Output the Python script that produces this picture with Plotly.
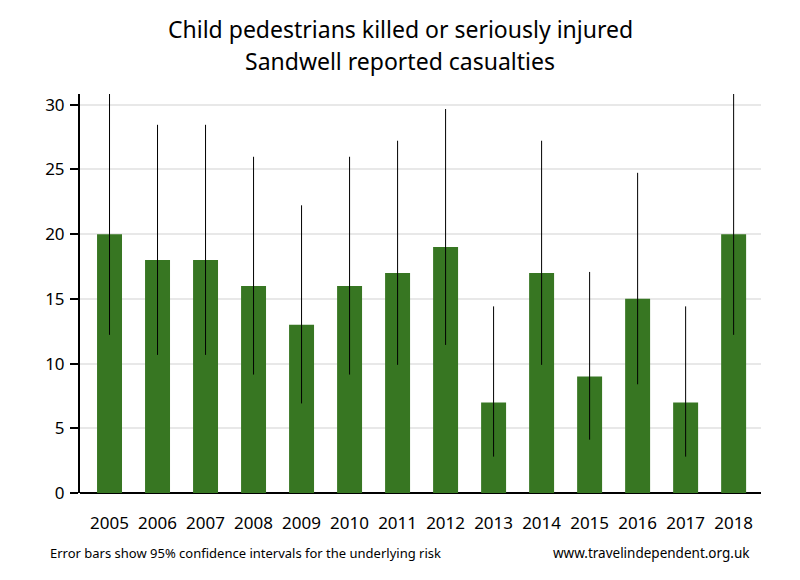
import plotly.graph_objects as go

# Sandwell child pedestrian KSI casualties, with 95% confidence limits
years = ["2005", "2006", "2007", "2008", "2009", "2010", "2011",
         "2012", "2013", "2014", "2015", "2016", "2017", "2018"]
casualties = [20, 18, 18, 16, 13, 16, 17, 19, 7, 17, 9, 15, 7, 20]
upper_ci = [30.89, 28.45, 28.45, 25.98, 22.23, 25.98, 27.22,
            29.67, 14.42, 27.22, 17.08, 24.74, 14.42, 30.89]
lower_ci = [12.22, 10.67, 10.67, 9.15, 6.92, 9.15, 9.90,
            11.44, 2.81, 9.90, 4.12, 8.40, 2.81, 12.22]

err_plus = [u - v for u, v in zip(upper_ci, casualties)]
err_minus = [v - l for v, l in zip(casualties, lower_ci)]

# page body has an 8px margin, so the figure sits 8px right/down
OFF = 8
plot_top = 94 - OFF
plot_h = 492.7 - 94
plot_l = 80 - OFF
plot_w = 761 - 80

fig = go.Figure()
fig.add_trace(go.Bar(
    x=list(range(len(years))),
    y=casualties,
    width=0.52,
    marker=dict(color="#377622", line=dict(width=0)),
    error_y=dict(type="data", symmetric=False, array=err_plus,
                 arrayminus=err_minus, color="black", thickness=1, width=0),
))

fig.update_layout(
    width=800, height=580,
    plot_bgcolor="white", paper_bgcolor="white",
    font=dict(family="Noto Sans", color="black"),
    showlegend=False,
    margin=dict(l=plot_l, r=800 - plot_l - plot_w, t=plot_top,
                b=580 - plot_top - plot_h),
)

fig.update_xaxes(
    tickmode="array", tickvals=list(range(len(years))), ticktext=years,
    range=[-0.615, 13.57], showgrid=False, zeroline=False,
    showline=False, ticks="", ticklabelstandoff=18,
    tickfont=dict(size=17),
)
fig.update_yaxes(
    range=[0, 30.83], tickvals=[0, 5, 10, 15, 20, 25, 30],
    showgrid=True, gridcolor="#e8e8e8", gridwidth=2,
    zeroline=True, zerolinecolor="black", zerolinewidth=2,
    showline=True, linecolor="black", linewidth=2,
    ticks="outside", ticklen=8, tickwidth=2, tickcolor="black",
    ticklabelstandoff=2, tickfont=dict(size=17),
)

def py(screen_y):
    # screen pixel row -> paper y
    return (plot_top + plot_h - (screen_y - OFF)) / plot_h

def px(screen_x):
    return (screen_x - OFF - plot_l) / plot_w

title_lines = ["Child pedestrians killed or seriously injured",
               "Sandwell reported casualties"]
for line, yc in zip(title_lines, [29, 61]):
    fig.add_annotation(
        text=line, xref="paper", yref="paper", x=px(400), y=py(yc),
        xanchor="center", yanchor="middle", showarrow=False,
        font=dict(size=23),
    )

fig.add_annotation(
    text="Error bars show 95% confidence intervals for the underlying risk",
    xref="paper", yref="paper", x=px(48), y=py(553),
    xanchor="left", yanchor="middle", showarrow=False,
    font=dict(size=13),
)
fig.add_annotation(
    text="www.travelindependent.org.uk",
    xref="paper", yref="paper", x=px(752), y=py(553),
    xanchor="right", yanchor="middle", showarrow=False,
    font=dict(size=13.5),
)

fig.write_html("out.html")
